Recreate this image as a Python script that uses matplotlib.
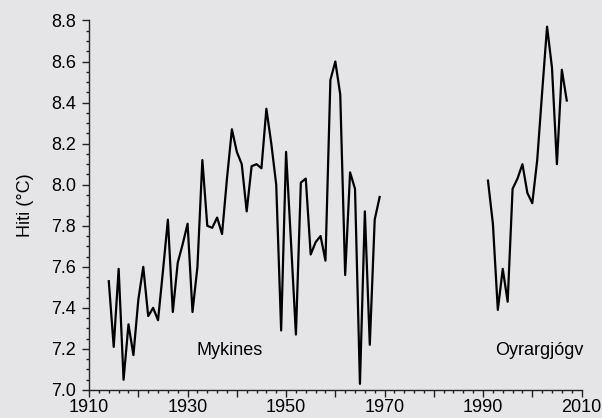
import numpy as np
import matplotlib
matplotlib.use("Agg")
import matplotlib.pyplot as plt
from matplotlib.ticker import MultipleLocator, FuncFormatter

# Mykines series 1914-1969
mykines_years = list(range(1914, 1970))
mykines_temp = [7.53, 7.21, 7.59, 7.05, 7.32, 7.17, 7.44, 7.60, 7.36, 7.40, 7.34,
                7.58, 7.83, 7.38, 7.62, 7.71, 7.81, 7.38, 7.60, 8.12, 7.80, 7.79,
                7.84, 7.76, 8.03, 8.27, 8.16, 8.10, 7.87, 8.09, 8.10, 8.08, 8.37,
                8.20, 8.00, 7.29, 8.16, 7.72, 7.27, 8.01, 8.03, 7.66, 7.72, 7.75,
                7.63, 8.51, 8.60, 8.44, 7.56, 8.06, 7.98, 7.03, 7.87, 7.22, 7.83,
                7.94]

# Oyrargjógv series 1991-2007
oyrar_years = list(range(1991, 2008))
oyrar_temp = [8.02, 7.81, 7.39, 7.59, 7.43, 7.98, 8.03, 8.10, 7.96, 7.91, 8.12,
              8.45, 8.77, 8.57, 8.10, 8.56, 8.41]

bg = "#e5e5e7"
plt.rcParams["font.family"] = ["Liberation Sans", "DejaVu Sans"]

fig = plt.figure(figsize=(6.02, 4.18), dpi=100, facecolor=bg)
ax = fig.add_axes([0.148, 0.067, 0.818, 0.884], facecolor=bg)

ax.plot(mykines_years, mykines_temp, color="black", lw=1.6)
ax.plot(oyrar_years, oyrar_temp, color="black", lw=1.6)

ax.set_xlim(1910, 2010)
ax.set_ylim(7.0, 8.8)

for s in ["top", "right"]:
    ax.spines[s].set_visible(False)
for s in ["left", "bottom"]:
    ax.spines[s].set_linewidth(1.0)
    ax.spines[s].set_color("#222222")

ax.xaxis.set_major_locator(MultipleLocator(10))
ax.xaxis.set_minor_locator(MultipleLocator(2))
ax.xaxis.set_major_formatter(FuncFormatter(lambda v, p: f"{int(v)}" if int(v) % 20 == 10 else ""))
ax.yaxis.set_major_locator(MultipleLocator(0.2))
ax.yaxis.set_minor_locator(MultipleLocator(0.05))
ax.yaxis.set_major_formatter(FuncFormatter(lambda v, p: f"{v:.1f}"))

ax.tick_params(which="major", direction="out", length=4.7, width=1, labelsize=13, color="#222222")
ax.tick_params(which="minor", direction="out", length=2.4, width=1, color="#222222")
ax.tick_params(axis="x", which="major", pad=1.8)
ax.tick_params(axis="y", which="major", pad=4.5)

ax.set_ylabel("Hiti (°C)", fontsize=13)
ax.yaxis.set_label_coords(-0.112, 0.5)

ax.text(1938.5, 7.19, "Mykines", fontsize=13, ha="center", va="center")
ax.text(2001.5, 7.19, "Oyrargjógv", fontsize=13, ha="center", va="center")

fig.savefig("out.png", dpi=100, facecolor=bg)
